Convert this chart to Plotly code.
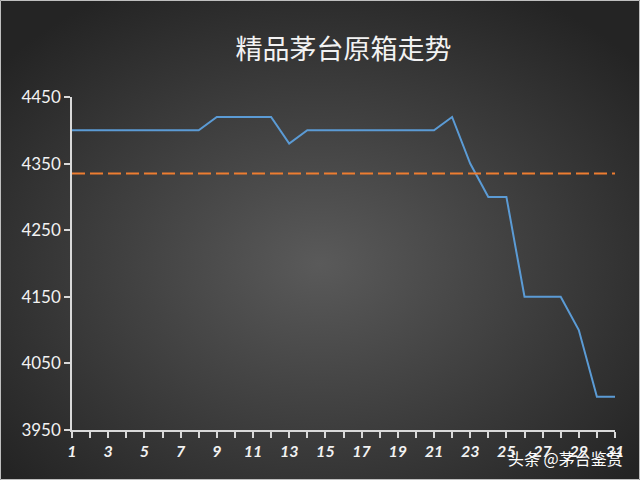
import base64
import plotly.graph_objects as go

# ---- data ----
days = list(range(1, 32))
prices = [4400, 4400, 4400, 4400, 4400, 4400, 4400, 4400,
          4420, 4420, 4420, 4420, 4380,
          4400, 4400, 4400, 4400, 4400, 4400, 4400, 4400,
          4420, 4350, 4300, 4300, 4150, 4150, 4150, 4100, 4000, 4000]
avg_value = 4335
avg_line = [avg_value] * len(days)
x_ticktext = [str(d) if d % 2 == 1 else "" for d in days]
y_ticks = [3950, 4050, 4150, 4250, 4350, 4450]
title_text = "精品茅台原箱走势"
watermark = "头条 @茅台鉴赏"

W, H = 640, 480
ml, mr, mt, mb = 72, 25, 97, 50
pw, ph = W - ml - mr, H - mt - mb

svg = f'''<svg xmlns="http://www.w3.org/2000/svg" width="{W}" height="{H}" viewBox="0 0 {W} {H}" preserveAspectRatio="none">
<defs><radialGradient id="g" cx="50%" cy="55%" r="65%">
<stop offset="0%" stop-color="#5a5a5a"/>
<stop offset="100%" stop-color="#242424"/>
</radialGradient></defs>
<rect width="{W}" height="{H}" fill="url(#g)"/>
</svg>'''
src = "data:image/svg+xml;base64," + base64.b64encode(svg.encode()).decode()

fig = go.Figure()
fig.add_trace(go.Scatter(x=days, y=prices, mode="lines",
                         line=dict(color="#5b9bd5", width=2),
                         cliponaxis=False, hoverinfo="skip"))
fig.add_trace(go.Scatter(x=days, y=avg_line, mode="lines",
                         line=dict(color="#ed7d31", width=2, dash="13px,5px"),
                         cliponaxis=False, hoverinfo="skip"))

fig.add_layout_image(dict(source=src, xref="paper", yref="paper",
                          x=-ml / pw, y=1 + mt / ph, sizex=W / pw, sizey=H / ph,
                          xanchor="left", yanchor="top", sizing="stretch",
                          layer="below"))

fig.add_shape(type="rect", xref="paper", yref="paper",
              x0=-ml / pw + 0.5 / pw, x1=1 + mr / pw - 0.5 / pw,
              y0=-mb / ph + 0.5 / ph, y1=1 + mt / ph - 0.5 / ph,
              line=dict(color="#bfbfbf", width=1), layer="above")

fig.update_layout(
    width=W, height=H,
    margin=dict(l=ml, r=mr, t=mt, b=mb),
    paper_bgcolor="#2a2a2a", plot_bgcolor="rgba(0,0,0,0)",
    showlegend=False,
    title=dict(text=title_text, x=0.5, xref="paper", xanchor="center",
               y=1 - 50 / H, yanchor="middle",
               font=dict(family="Noto Sans CJK SC", size=27, color="#f2f2f2")),
    font=dict(family="Lato, Open Sans, sans-serif", color="#f2f2f2"),
)
fig.update_xaxes(range=[1, 31], tickmode="array", tickvals=days, ticktext=x_ticktext,
                 showgrid=False, zeroline=False, showline=True,
                 linecolor="#d9d9d9", linewidth=1.5,
                 ticks="outside", ticklen=6, tickcolor="#d9d9d9", tickwidth=1.5,
                 tickfont=dict(family="Lato", size=16, color="#f2f2f2",
                               weight="bold", style="italic"))
fig.update_yaxes(range=[3950, 4450], tickmode="array", tickvals=y_ticks,
                 showgrid=False, zeroline=False, showline=True,
                 linecolor="#d9d9d9", linewidth=1.5,
                 ticks="outside", ticklen=6, tickcolor="#d9d9d9", tickwidth=1.5,
                 tickfont=dict(family="Lato", size=17, color="#f2f2f2"))

fig.add_annotation(text=watermark, xref="paper", yref="paper",
                   x=1 + 10 / pw, y=-28 / ph, xanchor="right", yanchor="middle",
                   showarrow=False,
                   font=dict(family="Noto Sans CJK SC", size=16, color="#ffffff"))

fig.write_html("out.html", config={"displayModeBar": False},
               post_script="document.body.style.margin='0';")
